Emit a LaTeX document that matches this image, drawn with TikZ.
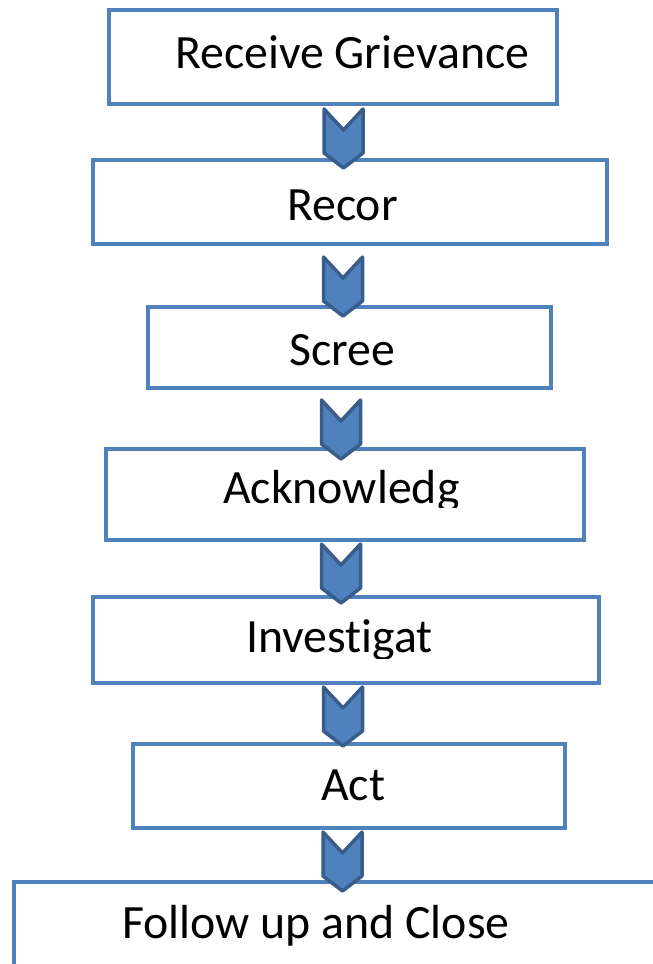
\documentclass[tikz,border=0pt]{standalone}
\usepackage{fontspec}
\setmainfont{Carlito}[Ligatures={NoCommon}]
\usetikzlibrary{calc}
\definecolor{boxblue}{HTML}{4F81BD}
\definecolor{arrowedge}{HTML}{385D8A}
\begin{document}
\begin{tikzpicture}[x=1pt,y=-1pt,
  box/.style={draw=boxblue,line width=4pt,rectangle,inner sep=0pt,fill=white},
  lbl/.style={anchor=base west,inner sep=0pt,font=\fontsize{47.8}{56}\selectfont,text=black},
  chev/.style={fill=boxblue,draw=arrowedge,line width=3.5pt,line join=round}]
\useasboundingbox (0,0) rectangle (653,964);
\begin{scope}
\clip (0,0) rectangle (653,964);
% boxes
\node[box,minimum width=448pt,minimum height=94pt] (b1) at (333,57) {};
\node[box,minimum width=514pt,minimum height=84pt] (b2) at (350,202) {};
\node[box,minimum width=403pt,minimum height=81pt] (b3) at (349.5,347.5) {};
\node[box,minimum width=478pt,minimum height=91pt] (b4) at (345,494.5) {};
\node[box,minimum width=506pt,minimum height=86pt] (b5) at (346,640) {};
\node[box,minimum width=432pt,minimum height=84pt] (b6) at (349,786) {};
\node[box,minimum width=706pt,minimum height=138pt] (b7) at (367,951) {};
% labels
\node[lbl] (t1) at (175,68) {Receive Grievance};
\node[lbl] (t2) at (287,220) {Recor};
\node[lbl] (t3) at (289,365) {Scree};
\begin{scope}
\clip (0,449) rectangle (653,507);
\node[lbl] (t4) at (223,503) {Acknowledg};
\end{scope}
\begin{scope}
\clip (0,597) rectangle (653,658);
\node[lbl] (t5) at (246,652) {Investigat};
\end{scope}
\node[lbl] (t6) at (321,800) {Act};
\node[lbl] (t7) at (122,938) {Follow up and Close};
% chevron connectors: top-centre coordinates
\coordinate (a1) at (343.5,109);
\coordinate (a2) at (343,257);
\coordinate (a3) at (341,400);
\coordinate (a4) at (341,544);
\coordinate (a5) at (343,687);
\coordinate (a6) at (342.5,832);
\foreach \a in {a1,a2,a3,a4,a5,a6}{
  \draw[chev] ($(\a)+(-19.5,0)$) -- ($(\a)+(0,21)$) -- ($(\a)+(19.5,0)$)
    -- ($(\a)+(19.5,44)$) -- ($(\a)+(0,59)$) -- ($(\a)+(-19.5,44)$) -- cycle;
}
\end{scope}
\end{tikzpicture}
\end{document}
